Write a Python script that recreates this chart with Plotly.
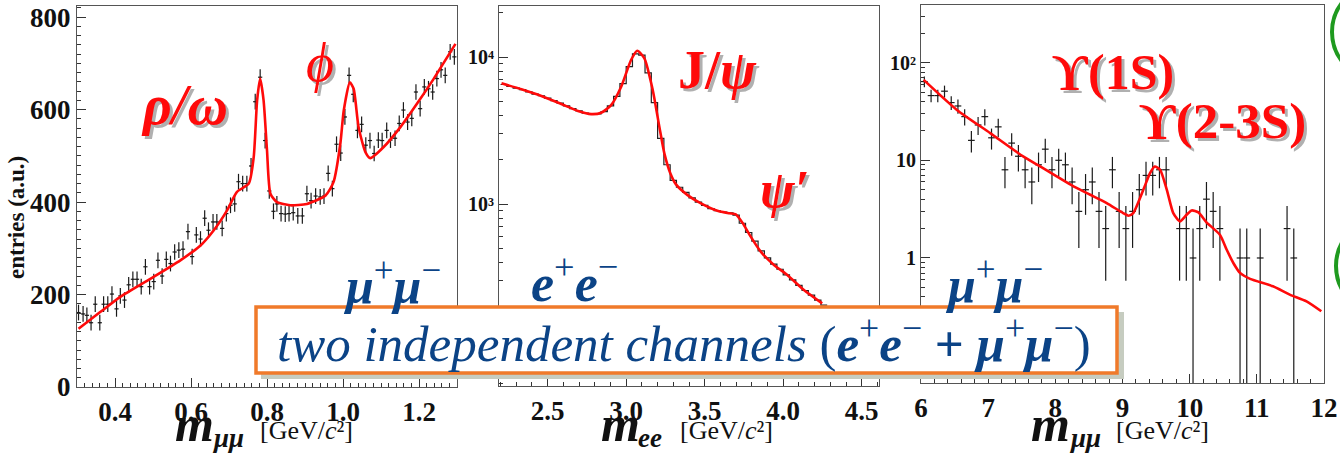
import math
import plotly.graph_objects as go

W, H = 1340, 454

# ---------------- dimuon, low mass (linear) ----------------
mm_low_x = [0.304, 0.316, 0.326, 0.337, 0.348, 0.360, 0.370, 0.381, 0.392, 0.404,
            0.414, 0.425, 0.436, 0.447, 0.458, 0.469, 0.480, 0.491, 0.502, 0.513,
            0.524, 0.535, 0.546, 0.557, 0.568, 0.579, 0.592, 0.603, 0.614, 0.625,
            0.636, 0.646, 0.658, 0.668, 0.682, 0.693, 0.704, 0.715, 0.725, 0.736,
            0.747, 0.758, 0.769, 0.782, 0.795, 0.806, 0.817, 0.826, 0.837, 0.848,
            0.858, 0.869, 0.881, 0.893, 0.905, 0.916, 0.928, 0.940, 0.950, 0.961,
            0.972, 0.983, 0.994, 1.005, 1.016, 1.027, 1.038, 1.049, 1.060, 1.071,
            1.082, 1.093, 1.103, 1.115, 1.125, 1.137, 1.148, 1.159, 1.170, 1.181,
            1.192, 1.203, 1.214, 1.225, 1.236, 1.247, 1.258, 1.269, 1.282, 1.293]
mm_low_y = [161, 158, 155, 139, 179, 139, 179, 179, 201, 169,
            197, 188, 221, 233, 233, 217, 260, 217, 228, 274,
            240, 276, 267, 292, 296, 298, 336, 282, 329, 320,
            365, 339, 357, 357, 343, 375, 393, 396, 444, 440,
            440, 478, 617, 670, 533, 424, 380, 396, 375, 374,
            375, 377, 370, 370, 418, 403, 413, 411, 413, 462,
            429, 525, 506, 584, 674, 633, 555, 568, 523, 533,
            505, 534, 533, 555, 534, 538, 570, 599, 573, 581,
            638, 602, 649, 645, 638, 667, 686, 674, 725, 714]
mm_low_err = 17
mm_low_xerr = 0.0055

mm_low_fit_x = [0.304, 0.361, 0.414, 0.493, 0.572, 0.625, 0.660, 0.695, 0.721, 0.752,
                0.765, 0.774, 0.782, 0.791, 0.800, 0.809, 0.826, 0.861, 0.905, 0.954,
                0.975, 0.993, 1.002, 1.018, 1.028, 1.041, 1.059, 1.072, 1.107, 1.151,
                1.195, 1.239, 1.296]
mm_low_fit_y = [126, 162, 195, 234, 274, 306, 339, 382, 422, 440,
                497, 620, 667, 620, 512, 418, 400, 393, 396, 414,
                443, 526, 598, 659, 645, 562, 508, 495, 519, 562,
                613, 667, 742]

# ---------------- dielectron, J/psi region (log) ----------------
ee_bin_width = 0.04
ee_centers = [2.22, 2.26, 2.30, 2.34, 2.38, 2.42, 2.46, 2.50, 2.54, 2.58,
              2.62, 2.66, 2.70, 2.74, 2.78, 2.82, 2.86, 2.90, 2.94, 2.98,
              3.02, 3.06, 3.10, 3.14, 3.18, 3.22, 3.26, 3.30, 3.34, 3.38,
              3.42, 3.46, 3.50, 3.54, 3.58, 3.62, 3.66, 3.70, 3.74, 3.78,
              3.82, 3.86, 3.90, 3.94, 3.98, 4.02, 4.06, 4.10, 4.14, 4.18,
              4.22, 4.26]
ee_counts = [6500, 6300, 6150, 6000, 5800, 5600, 5450, 5250, 5050, 4850,
             4650, 4450, 4300, 4150, 4100, 4100, 4250, 4650, 5400, 6600,
             8600, 10500, 10300, 7800, 4900, 2800, 1850, 1450, 1300, 1200,
             1100, 1030, 980, 930, 900, 880, 870, 840, 740, 640,
             560, 480, 430, 390, 360, 330, 305, 280, 258, 240,
             222, 205]

ee_fit_x = [2.206, 2.333, 2.460, 2.587, 2.693, 2.777, 2.841, 2.904, 2.968, 3.031,
            3.070, 3.116, 3.169, 3.211, 3.243, 3.281, 3.317, 3.391, 3.476, 3.581,
            3.656, 3.698, 3.740, 3.793, 3.857, 3.941, 4.026, 4.132, 4.248]
ee_fit_y = [6620, 6030, 5430, 4790, 4300, 4090, 4180, 4710, 6280, 9540,
            11030, 9800, 5970, 3360, 2210, 1620, 1360, 1150, 1010, 900,
            865, 851, 747, 600, 474, 385, 329, 260, 211]

# ---------------- dimuon, Upsilon region (log) ----------------
mm_high_x = [6.05, 6.15, 6.25, 6.35, 6.45, 6.55, 6.65, 6.75, 6.85, 6.95,
             7.05, 7.15, 7.25, 7.35, 7.45, 7.55, 7.65, 7.75, 7.85, 7.95,
             8.05, 8.15, 8.25, 8.35, 8.45, 8.55, 8.65, 8.75, 8.85, 8.95,
             9.05, 9.15, 9.25, 9.35, 9.45, 9.55, 9.65, 9.85, 9.95, 10.05,
             10.15, 10.25, 10.35, 10.45, 10.75, 10.85, 11.05, 11.45, 11.55]
mm_high_counts = [64, 46, 46, 51, 39, 36, 28, 16, 23, 28,
                  17, 22, 8, 15, 11, 8, 6, 9, 13, 8,
                  10, 9, 6, 3, 5, 6, 3, 2, 8, 3,
                  2, 3, 5, 7, 7, 8, 8, 2, 2, 1,
                  2, 4, 3, 2, 1, 1, 1, 2, 1]
mm_high_xerr = 0.05

mm_high_fit_x = [6.04, 6.535, 7.03, 7.526, 7.774, 8.02, 8.27, 8.52, 8.765, 9.01,
                 9.09, 9.16, 9.31, 9.41, 9.48, 9.56, 9.66, 9.756, 9.855, 9.954,
                 10.03, 10.13, 10.25, 10.45, 10.55, 10.65, 10.75, 10.90, 11.24, 11.49,
                 11.74, 11.96]
mm_high_fit_y = [66.6, 32.8, 19.0, 10.9, 8.65, 6.84, 5.41, 4.44, 3.65, 2.88,
                 2.71, 2.88, 4.99, 7.39, 8.65, 8.0, 4.99, 2.88, 2.37, 2.77,
                 3.07, 2.93, 2.32, 1.73, 1.22, 0.889, 0.703, 0.61, 0.513, 0.422,
                 0.360, 0.285]

RED = "#ff0a0a"
BLUE = "#0b4386"
ORANGE = "#f07a2a"
PT = "#1a1a1a"
SERIF = "Liberation Serif, 'Times New Roman', DejaVu Serif, serif"


def px_x(p):
    return p / W


def px_y(p):
    return 1 - p / H


fig = go.Figure()

# panel 1
fig.add_trace(go.Scatter(
    x=mm_low_x, y=mm_low_y, mode="markers", xaxis="x", yaxis="y",
    marker=dict(size=1, color=PT),
    error_y=dict(type="constant", value=mm_low_err, thickness=1.2, width=0, color=PT),
    error_x=dict(type="constant", value=mm_low_xerr, thickness=1.2, width=0, color=PT),
    showlegend=False, hoverinfo="skip"))
fig.add_trace(go.Scatter(
    x=mm_low_fit_x, y=mm_low_fit_y, mode="lines", xaxis="x", yaxis="y",
    line=dict(color=RED, width=2.6, shape="spline", smoothing=0.6),
    showlegend=False, hoverinfo="skip"))

# panel 2: step histogram from bin edges
ee_edges = [c - ee_bin_width / 2 for c in ee_centers] + [ee_centers[-1] + ee_bin_width / 2]
ee_steps = ee_counts + [ee_counts[-1]]
fig.add_trace(go.Scatter(
    x=ee_edges, y=ee_steps, mode="lines", xaxis="x2", yaxis="y2",
    line=dict(color="#222", width=1.2, shape="hv"),
    showlegend=False, hoverinfo="skip"))
fig.add_trace(go.Scatter(
    x=ee_fit_x, y=ee_fit_y, mode="lines", xaxis="x2", yaxis="y2",
    line=dict(color=RED, width=2.6, shape="spline", smoothing=0.6),
    showlegend=False, hoverinfo="skip"))

# panel 3: Poisson error bars
fig.add_trace(go.Scatter(
    x=mm_high_x, y=mm_high_counts, mode="markers", xaxis="x3", yaxis="y3",
    marker=dict(size=1, color=PT),
    error_y=dict(type="data", array=[math.sqrt(n) for n in mm_high_counts],
                 thickness=1.2, width=0, color=PT),
    error_x=dict(type="constant", value=mm_high_xerr, thickness=1.2, width=0, color=PT),
    showlegend=False, hoverinfo="skip"))
fig.add_trace(go.Scatter(
    x=mm_high_fit_x, y=mm_high_fit_y, mode="lines", xaxis="x3", yaxis="y3",
    line=dict(color=RED, width=2.6, shape="spline", smoothing=0.6),
    showlegend=False, hoverinfo="skip"))

axis_common = dict(showline=True, mirror=True, linecolor="#555", linewidth=1.2,
                   ticks="inside", tickcolor="#333", tickwidth=1, showgrid=False,
                   zeroline=False, ticklen=9, automargin=False)
big_tick = dict(family=SERIF, size=27, color="#111", weight="bold")
small_tick = dict(family=SERIF, size=20, color="#111", weight="bold")


def log_minor(lo, hi):
    vals = []
    for k in range(lo, hi + 1):
        for m in range(2, 10):
            vals.append(m * 10.0 ** k)
    return vals


fig.update_layout(
    template="none",
    width=W, height=H, margin=dict(l=0, r=0, t=0, b=0, pad=0), autosize=False,
    paper_bgcolor="white", plot_bgcolor="white", showlegend=False,
    font=dict(family=SERIF, color="#111"),
    xaxis=dict(domain=[px_x(77), px_x(457)], range=[0.3, 1.3], anchor="y",
               tickvals=[0.4, 0.6, 0.8, 1.0, 1.2],
               ticktext=["0.4", "0.6", "0.8", "1.0", "1.2"], tickfont=big_tick,
               minor=dict(dtick=0.02, ticks="inside", ticklen=4, tickcolor="#333"),
               **axis_common),
    yaxis=dict(domain=[px_y(387), px_y(6)], range=[0, 824], anchor="x",
               tickvals=[0, 200, 400, 600, 800], tickfont=big_tick,
               minor=dict(dtick=20, ticks="inside", ticklen=4, tickcolor="#333"),
               **axis_common),
    xaxis2=dict(domain=[px_x(499), px_x(879)], range=[2.19, 4.61], anchor="y2",
                tickvals=[2.5, 3.0, 3.5, 4.0, 4.5],
                ticktext=["2.5", "3.0", "3.5", "4.0", "4.5"], tickfont=big_tick,
                minor=dict(dtick=0.1, ticks="inside", ticklen=4, tickcolor="#333"),
                **axis_common),
    yaxis2=dict(domain=[px_y(386), px_y(6)], type="log", range=[1.762, 4.347],
                anchor="x2", tickvals=[1000, 10000], ticktext=["10³", "10⁴"],
                tickfont=small_tick,
                minor=dict(tickvals=log_minor(1, 4), ticks="inside", ticklen=4,
                           tickcolor="#333"),
                **axis_common),
    xaxis3=dict(domain=[px_x(921), px_x(1324)], range=[6, 12], anchor="y3",
                tickvals=[6, 7, 8, 9, 10, 11, 12], tickfont=big_tick,
                minor=dict(dtick=0.2, ticks="inside", ticklen=4, tickcolor="#333"),
                **axis_common),
    yaxis3=dict(domain=[px_y(383), px_y(5)], type="log", range=[-1.28, 2.59],
                anchor="x3", tickvals=[1, 10, 100], ticktext=["1", "10", "10²"],
                tickfont=small_tick,
                minor=dict(tickvals=log_minor(-2, 2), ticks="inside", ticklen=4,
                           tickcolor="#333"),
                **axis_common),
)

annotations = []


def label(text, cx, cy, size, color, bold=True, italic=False, shadow=False,
          family=SERIF, angle=0):
    t = text
    if italic:
        t = "<i>" + t + "</i>"
    font = dict(family=family, size=size, color=color,
                weight="bold" if bold else "normal")
    if shadow:
        annotations.append(dict(
            text=t, x=px_x(cx), y=px_y(cy), xref="paper", yref="paper",
            xanchor="center", yanchor="middle", showarrow=False,
            xshift=3, yshift=-3, textangle=angle,
            font=dict(font, color="rgba(150,150,150,0.75)")))
    annotations.append(dict(
        text=t, x=px_x(cx), y=px_y(cy), xref="paper", yref="paper",
        xanchor="center", yanchor="middle", showarrow=False, textangle=angle,
        font=font))


# resonance labels
label("ρ/ω", 184, 105, 56, RED, italic=True, shadow=True)
label("ϕ", 320, 63, 54, RED, bold=False, italic=True, shadow=True)
label("J/<i>ψ</i>", 717, 70, 54, RED, shadow=True)
label("ψ′", 784, 190, 52, RED, italic=True, shadow=True)
label("ϒ(1S)", 1113, 72, 50, RED, shadow=True)
label("ϒ(2-3S)", 1222, 121, 51, RED, shadow=True)

# channel labels
mumu = "<b><i>μ</i></b><sup>+</sup><b><i>μ</i></b><sup>−</sup>"
ee = "<b><i>e</i></b><sup>+</sup><b><i>e</i></b><sup>−</sup>"
label(mumu, 392, 282, 50, BLUE, bold=False)
label(ee, 574, 279, 52, BLUE, bold=False)
label(mumu, 994, 281, 50, BLUE, bold=False)

# axis titles
for mx, sx, sub, ux in [(194, 228, "μμ", 306), (620, 650, "ee", 726),
                        (1050, 1085, "μμ", 1162)]:
    label("m", mx, 424, 50, "#111", italic=True)
    label(sub, sx, 438, 27, "#111", italic=True)
    label("[GeV/<i>c</i>²]", ux, 430, 26, "#111", bold=False)

label("entries (a.u.)", 17, 218, 23, "#111", angle=-90)

# summary box text
label("<i>two independent channels</i> (" + ee + " <b>+</b> " + mumu + ")",
      684, 340, 51, BLUE, bold=False)

fig.update_layout(annotations=annotations)

shapes = [
    # box shadow
    dict(type="rect", xref="paper", yref="paper", layer="above",
         x0=px_x(261), x1=px_x(1124), y0=px_y(312), y1=px_y(379),
         fillcolor="#c6ccc0", line=dict(width=0)),
    # box
    dict(type="rect", xref="paper", yref="paper", layer="above",
         x0=px_x(256), x1=px_x(1117), y0=px_y(307), y1=px_y(373),
         fillcolor="white", line=dict(color=ORANGE, width=3.5)),
    # partial green rings at the right edge
    dict(type="circle", xref="paper", yref="paper", layer="above",
         x0=px_x(1332), x1=px_x(1428), y0=px_y(80), y1=px_y(-16),
         line=dict(color="#1f9a1f", width=4)),
    dict(type="circle", xref="paper", yref="paper", layer="above",
         x0=px_x(1336), x1=px_x(1432), y0=px_y(314), y1=px_y(218),
         line=dict(color="#1f9a1f", width=4)),
]
fig.update_layout(shapes=shapes)

fig.write_html("out.html")
